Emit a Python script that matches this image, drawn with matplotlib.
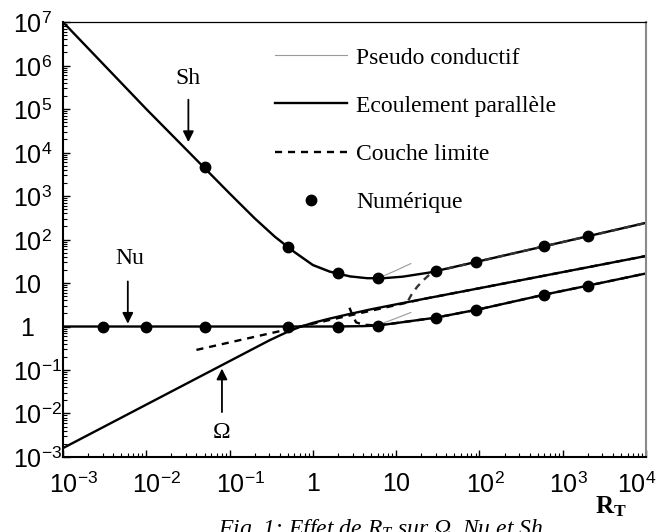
import numpy as np
import matplotlib
matplotlib.use("Agg")
import matplotlib.pyplot as plt
from matplotlib.transforms import ScaledTranslation

plt.rcParams['font.family'] = ['Liberation Sans', 'DejaVu Sans']
plt.rcParams['mathtext.fontset'] = 'custom'
plt.rcParams['mathtext.rm'] = 'Liberation Sans'
plt.rcParams['mathtext.it'] = 'Liberation Serif:italic'
plt.rcParams['mathtext.bf'] = 'Liberation Serif:bold'

SERIF = ['Liberation Serif', 'DejaVu Serif']

# --- data ---
# Ecoulement parallele (solid)
rt_sh = [1e-3, 1e-2, 0.1, 0.2, 0.35, 0.6, 1, 1.6, 2.8, 4.5, 7, 12, 25, 100, 600, 2000, 1e4]
sh = [1e7, 1e5, 1150, 308, 116, 51.7, 26, 18.3, 14.2, 12.9, 12.9, 14, 17.4, 31.8, 70, 119, 242]

rt_nu = [1e-3, 0.5, 1, 2, 4, 6, 10, 30, 100, 600, 2000, 1e4]
nu = [1, 1, 1, 1.0, 1.02, 1.05, 1.2, 1.6, 2.5, 5.4, 8.7, 16.6]

rt_om = [1e-3, 1e-2, 0.1, 0.3, 0.5, 0.7, 1, 1.5, 2.5, 5, 20, 100, 1e4]
om = [1.6e-3, 1.6e-2, 0.16, 0.48, 0.76, 0.98, 1.21, 1.48, 1.86, 2.49, 4.2, 7.6, 41.8]

# Couche limite (dashed)
rt_om_cl = [0.04, 0.2, 1, 5, 20, 100, 1e4]
om_cl = [0.29, 0.58, 1.16, 2.31, 4.2, 7.6, 41.8]
rt_nu_cl = [2.75, 3.0, 3.3, 4, 6, 10, 30, 100, 600, 2000, 1e4]
nu_cl = [2.7, 1.8, 1.25, 1.1, 1.06, 1.2, 1.6, 2.5, 5.4, 8.7, 16.6]
rt_sh_cl = [14, 15.5, 18, 21, 25, 30, 100, 600, 2000, 1e4]
sh_cl = [4.0, 5.7, 8.3, 11.4, 15.5, 18.7, 31.8, 70, 119, 242]

# Pseudo conductif (thin grey)
rt_sh_pc = [1e-3, 1e-2, 0.1, 0.2, 0.35, 0.6, 1, 1.6, 2.8, 4.5, 7, 10, 15]
sh_pc = [1e7, 1e5, 1150, 300, 112, 49.5, 24.8, 17.6, 13.8, 12.8, 14.5, 19.5, 28]
rt_nu_pc = [1e-3, 1, 2, 4, 6, 7, 10, 15]
nu_pc = [1, 1, 1.02, 1.06, 1.12, 1.2, 1.55, 2.1]

# Numerique (dots)
rt_sh_num = [0.05, 0.5, 2, 6, 30, 90, 600, 2000]
sh_num = [4600, 66, 16.8, 12.8, 19.0, 31, 70, 119]
rt_nu_num = [0.003, 0.01, 0.05, 0.5, 2, 6, 30, 90, 600, 2000]
nu_num = [1, 1, 1, 1, 1.0, 1.05, 1.6, 2.4, 5.4, 8.7]

xticks = [1e-3, 1e-2, 1e-1, 1, 10, 1e2, 1e3, 1e4]
xticklabels = ['$10^{-3}$', '$10^{-2}$', '$10^{-1}$', '$1$', '$10$', '$10^{2}$', '$10^{3}$', '$10^{4}$']
yticks = [1e-3, 1e-2, 1e-1, 1, 10, 1e2, 1e3, 1e4, 1e5, 1e6, 1e7]
yticklabels = ['$10^{-3}$', '$10^{-2}$', '$10^{-1}$', '$1$', '$10$', '$10^{2}$', '$10^{3}$',
               '$10^{4}$', '$10^{5}$', '$10^{6}$', '$10^{7}$']

TICK_FS = 18

fig = plt.figure(figsize=(6.57, 5.32), dpi=100)
ax = fig.add_axes([0.0959, 0.141, 0.8874, 0.8175])

grey = '#9a9a9a'
ax.plot(rt_sh_pc, sh_pc, color=grey, lw=0.8, label='Pseudo conductif')
ax.plot(rt_nu_pc, nu_pc, color=grey, lw=0.8)

ax.plot(rt_sh, sh, color='k', lw=1.7, label='Ecoulement parallèle')
ax.plot(rt_nu, nu, color='k', lw=1.7)
ax.plot(rt_om, om, color='k', lw=1.7)

dash = (0, (3, 2.5))
ax.plot(rt_om_cl, om_cl, color='k', lw=1.7, ls=dash, label='Couche limite')
ax.plot(rt_nu_cl, nu_cl, color='k', lw=1.7, ls=dash)
ax.plot(rt_sh_cl, sh_cl, color='#333333', lw=1.7, ls=dash)

ax.plot(rt_sh_num, sh_num, 'o', color='k', ms=7.5, label='Numérique')
ax.plot(rt_nu_num, nu_num, 'o', color='k', ms=7.5)

ax.set_xscale('log')
ax.set_yscale('log')
ax.set_xlim(1e-3, 1e4)
ax.set_ylim(1e-3, 1e7)
ax.set_xticks(xticks, xticklabels)
ax.set_yticks(yticks, yticklabels)
ax.xaxis.set_minor_locator(matplotlib.ticker.LogLocator(base=10, subs=np.arange(2, 10)))
ax.yaxis.set_minor_locator(matplotlib.ticker.LogLocator(base=10, subs=np.arange(2, 10), numticks=20))
ax.xaxis.set_minor_formatter(matplotlib.ticker.NullFormatter())
ax.yaxis.set_minor_formatter(matplotlib.ticker.NullFormatter())
ax.tick_params(which='both', direction='in', top=False, right=False, labelsize=TICK_FS)
ax.tick_params(which='major', length=5, width=1)
ax.tick_params(which='minor', length=3, width=0.8)
ax.tick_params(axis='x', pad=11)
ax.tick_params(axis='y', pad=36)

# the "10" base of each label is centred on its tick, superscripts hang to the right
digit = 0.556 * TICK_FS  # points per digit
for i, (lab, txt) in enumerate(zip(ax.get_xticklabels(), xticklabels)):
    base = 1 if txt == '$1$' else 2
    dx = -base * digit / 2
    if i == len(xticklabels) - 1:
        dx -= 11  # last label pulled in so it stays inside the figure
    lab.set_horizontalalignment('left')
    lab.set_transform(lab.get_transform() + ScaledTranslation(dx / 72, 0, fig.dpi_scale_trans))
for lab, txt in zip(ax.get_yticklabels(), yticklabels):
    base = 1 if txt == '$1$' else 2
    lab.set_horizontalalignment('left')
    lab.set_transform(lab.get_transform() + ScaledTranslation((digit - base * digit / 2) / 72, 0, fig.dpi_scale_trans))

for s in ['left', 'bottom']:
    ax.spines[s].set_linewidth(1.5)
ax.spines['top'].set_linewidth(0.9)
ax.spines['right'].set_color('#8a8a8a')
ax.spines['right'].set_linewidth(1.5)

leg = ax.legend(loc='upper left', bbox_to_anchor=(275 / 657, 1 - 47 / 532),
                bbox_transform=fig.transFigure, frameon=False, prop={'family': SERIF, 'size': 17},
                handlelength=3.05, handletextpad=0.38, labelspacing=1.13, borderpad=0, borderaxespad=0)

# annotations
ax.text(0.032, 5.1e5, 'Sh', family=SERIF, fontsize=17, ha='center', va='center')
ax.annotate('', xy=(0.032, 1.5e4), xytext=(0.032, 1.9e5),
            arrowprops=dict(arrowstyle='-|>', color='k', lw=1.3, mutation_scale=16))
ax.text(0.0064, 36, 'Nu', family=SERIF, fontsize=17, ha='center', va='center')
ax.annotate('', xy=(0.006, 1.0), xytext=(0.006, 12.6),
            arrowprops=dict(arrowstyle='-|>', color='k', lw=1.3, mutation_scale=16))
ax.text(0.081, 3.6e-3, 'Ω', family=SERIF, fontsize=17, ha='center', va='center')
ax.annotate('', xy=(0.081, 0.125), xytext=(0.081, 9.3e-3),
            arrowprops=dict(arrowstyle='-|>', color='k', lw=1.3, mutation_scale=16))

ax.set_xlabel(r'$\mathbf{R_T}$', fontsize=18)
ax.xaxis.set_label_coords(0.94, -0.085)

fig.text(218 / 657, 1 - 517 / 532, r'Fig. 1: Effet de $R_T$ sur Ω, Nu et Sh',
         family=SERIF, style='italic', fontsize=17, ha='left', va='top')

fig.savefig('out.png', dpi=100)
